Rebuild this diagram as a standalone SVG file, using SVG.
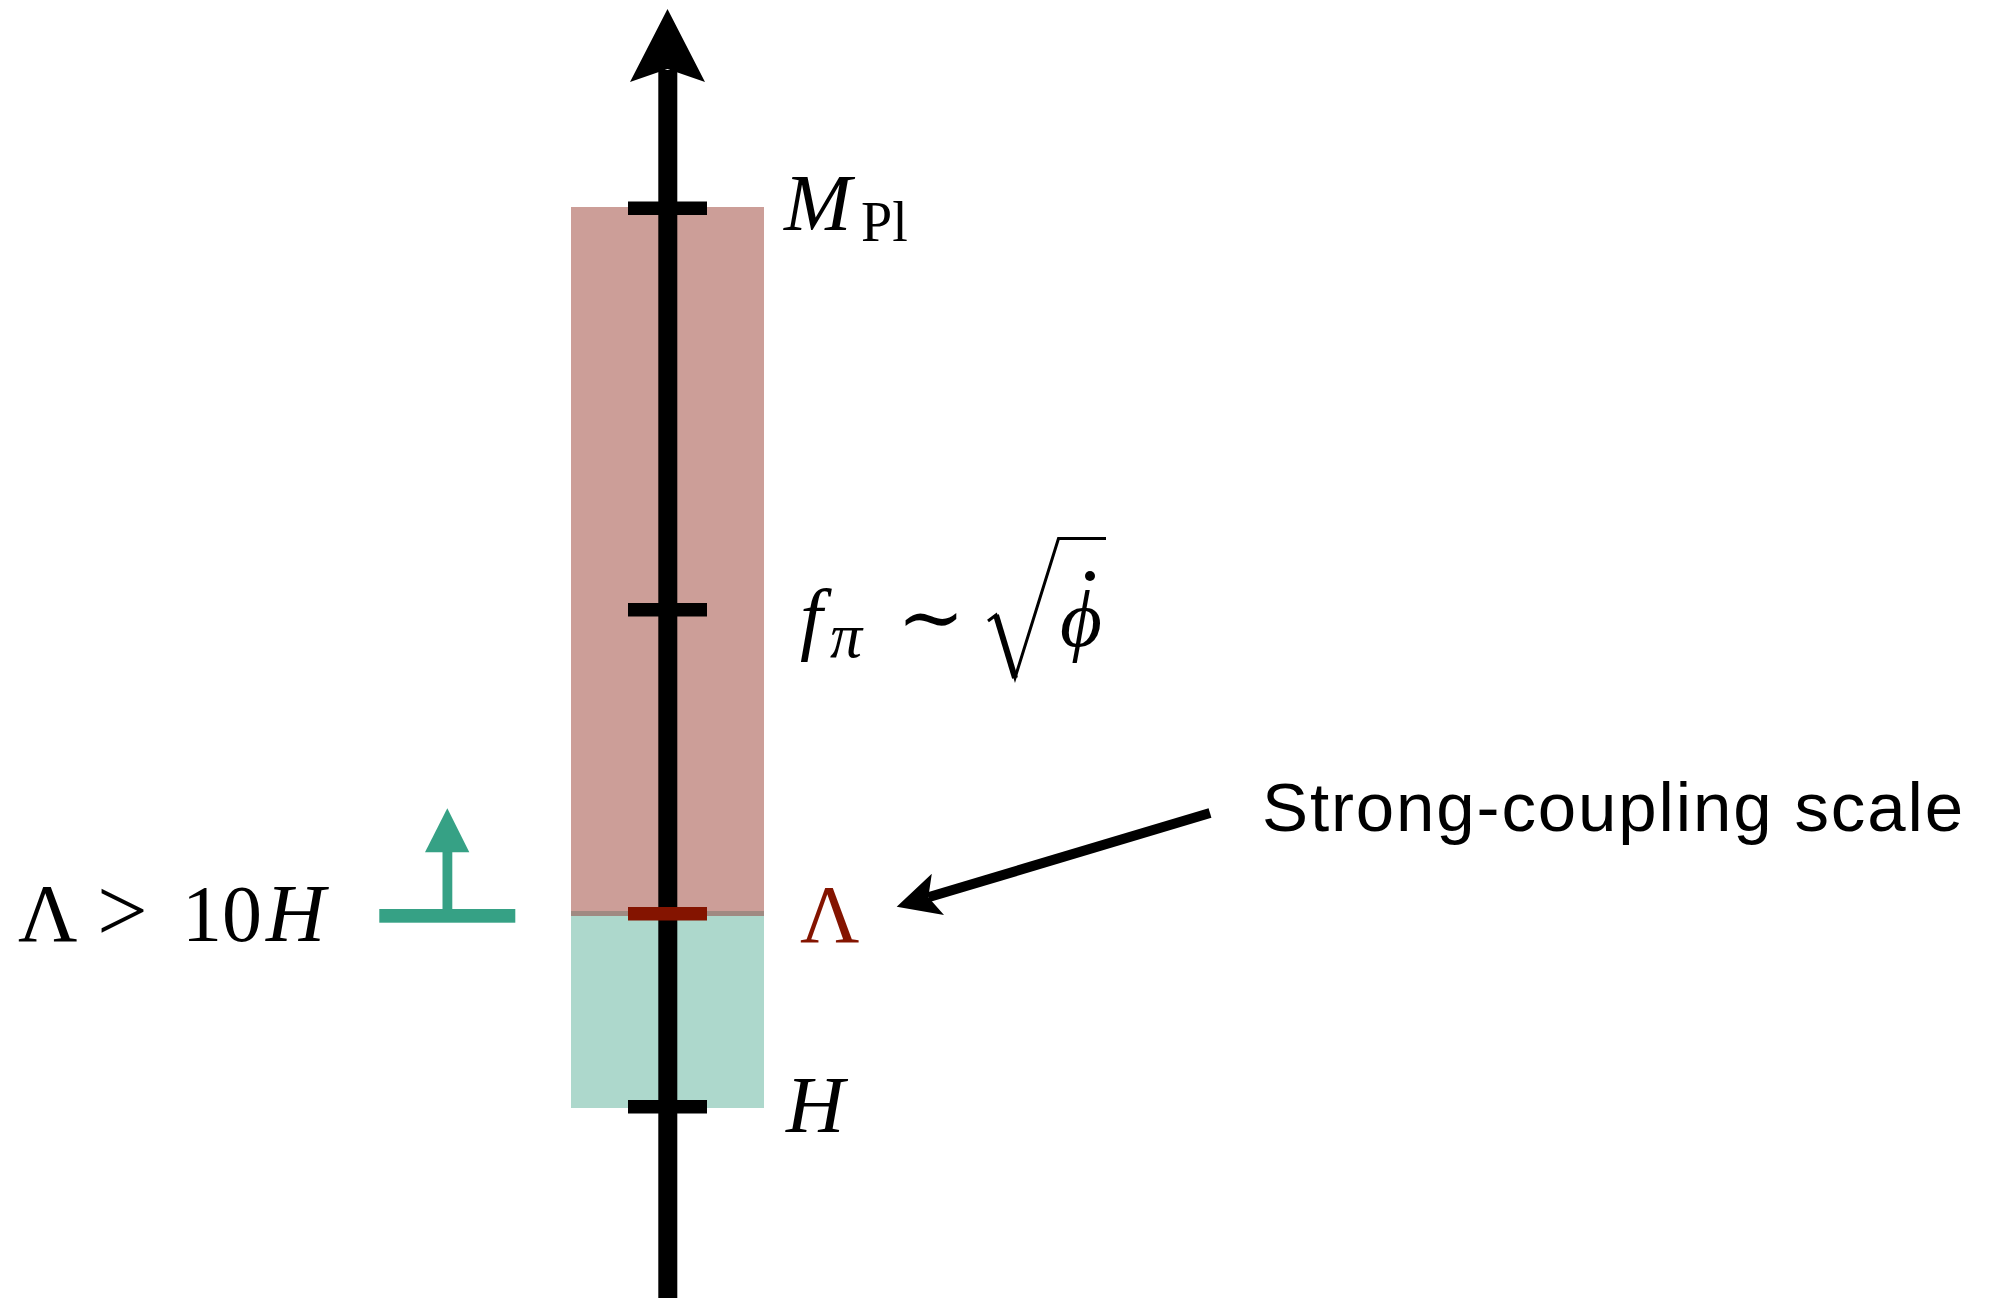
<svg xmlns="http://www.w3.org/2000/svg" width="1999" height="1298" viewBox="0 0 1999 1298">
<style>
.math{font-family:"Liberation Serif","DejaVu Serif",serif;fill:#000}
.it{font-style:italic}
.sans{font-family:"Liberation Sans",Arial,sans-serif;fill:#000}
.tick{fill:#000}
</style>
<rect width="1999" height="1298" fill="#fff"/>
<g id="bands">
  <rect x="571" y="207" width="193" height="705" fill="#cc9e98"/>
  <rect x="571" y="911" width="193" height="5" fill="#a08a82"/>
  <rect x="571" y="916" width="193" height="192" fill="#add8cc"/>
</g>
<g id="axis">
  <rect x="658.3" y="70" width="19" height="1228" fill="#000"/>
  <polygon points="667.5,9 705,82 667.5,69 630,82" fill="#000"/>
</g>
<g id="node-mpl">
  <rect class="tick" x="628" y="201.5" width="79" height="13.5"/>
  <text class="math it" x="784" y="230" font-size="81">M</text>
  <text class="math" x="861" y="240.7" font-size="56">Pl</text>
</g>
<g id="node-fpi">
  <rect class="tick" x="628" y="603" width="79" height="13.5"/>
  <text class="math it" x="800" y="645" font-size="81">f</text>
  <text class="math it" x="830" y="656.7" font-size="64">π</text>
  <text class="math" x="897" y="645" font-size="81">∼</text>
  <path d="M988,621 L996,615 L1015,678 L1058.5,538.5 L1106,538.5" fill="none" stroke="#000" stroke-width="3" stroke-linejoin="miter"/>
  <path d="M996,615 L1015,678" fill="none" stroke="#000" stroke-width="6"/>
  <text class="math it" x="1060" y="646" font-size="81">ϕ</text>
  <circle cx="1090" cy="576" r="5" fill="#000"/>
</g>
<g id="node-lambda">
  <rect x="628" y="907" width="79" height="13.5" fill="#841400"/>
  <text class="math" x="800" y="941.7" font-size="82" fill="#841400" style="fill:#841400">Λ</text>
</g>
<g id="node-h">
  <rect class="tick" x="628" y="1100" width="79" height="13.5"/>
  <text class="math it" x="786" y="1131.7" font-size="81">H</text>
</g>
<g id="node-bound">
  <text class="math" x="18" y="940.7" font-size="82">Λ</text>
  <text class="math" x="97" y="940.7" font-size="90">&gt;</text>
  <text class="math" x="182" y="940.7" font-size="80">10</text>
  <text class="math it" x="266" y="940.7" font-size="82">H</text>
  <g fill="#36a185">
    <rect x="379.3" y="909" width="136" height="13.7"/>
    <rect x="442.5" y="850" width="9.8" height="60"/>
    <polygon points="447.3,808.3 469.3,852.3 425,852.3"/>
  </g>
</g>
<g id="node-label">
  <text class="sans" x="1262" y="831" font-size="69" textLength="701" lengthAdjust="spacing">Strong-coupling scale</text>
</g>
<g id="connectors">
  <line x1="1210" y1="813" x2="928.3" y2="897.3" stroke="#000" stroke-width="10"/>
  <polygon points="896.7,906.7 931.8,873.8 928.3,897.3 944,915" fill="#000"/>
</g>
</svg>
